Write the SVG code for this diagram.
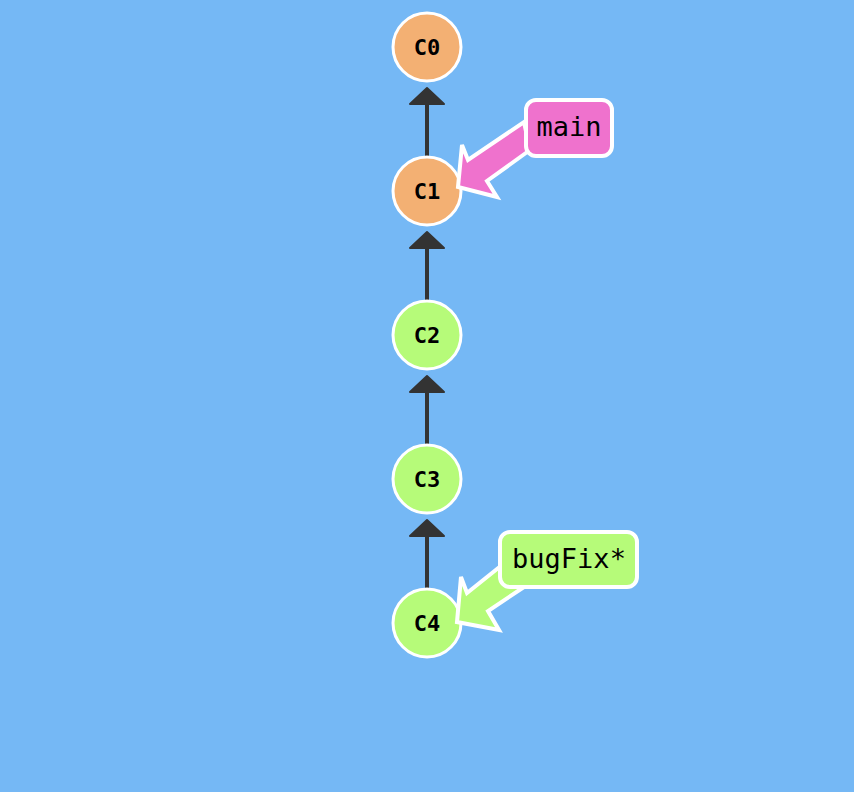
<svg xmlns="http://www.w3.org/2000/svg" width="854" height="792" viewBox="0 0 854 792">
<defs>
<style>
.node circle{stroke:#fff;stroke-width:3}
.node text{font-family:"DejaVu Sans Mono","Liberation Mono",monospace;font-weight:bold;font-size:22px;text-anchor:middle;fill:#000}
.orange{fill:#f3b073}
.green{fill:#b6fb79}
.edge line{stroke:#333;stroke-width:4}
.edge polygon{fill:#333;stroke:#333;stroke-width:2;stroke-linejoin:round}
.label rect,.label polygon{stroke:#fff;stroke-width:4;stroke-linejoin:miter}
.label text{font-family:"DejaVu Sans Mono","Liberation Mono",monospace;font-size:27px;fill:#000;text-anchor:middle}
</style>
</defs>
<rect width="854" height="792" fill="#75b8f5"/>
<g id="connectors" class="edge">
<line x1="427" y1="104" x2="427" y2="158"/><polygon points="427,88 444,104 410,104"/>
<line x1="427" y1="248" x2="427" y2="302"/><polygon points="427,232 444,248 410,248"/>
<line x1="427" y1="392" x2="427" y2="446"/><polygon points="427,376 444,392 410,392"/>
<line x1="427" y1="536" x2="427" y2="590"/><polygon points="427,520 444,536 410,536"/>
</g>
<g id="C0" class="node"><circle class="orange" cx="427" cy="47" r="34"/><text x="427" y="55">C0</text></g>
<g id="C1" class="node"><circle class="orange" cx="427" cy="191" r="34"/><text x="427" y="199">C1</text></g>
<g id="C2" class="node"><circle class="green" cx="427" cy="335" r="34"/><text x="427" y="343">C2</text></g>
<g id="C3" class="node"><circle class="green" cx="427" cy="479" r="34"/><text x="427" y="487">C3</text></g>
<g id="C4" class="node"><circle class="green" cx="427" cy="623" r="34"/><text x="427" y="631">C4</text></g>
<g id="main" class="label">
<polygon fill="#ef72cd" points="458,187 462,145 468,160 524,122 530,150 487,181 497,197"/>
<rect x="526" y="100" width="86" height="56" rx="10" fill="#ef72cd"/>
<text x="569" y="136">main</text>
</g>
<g id="bugFix" class="label">
<polygon fill="#b6fb79" points="457,622 461,577 467,593 502,565 527,585 488,611 499,630"/>
<rect x="500" y="532" width="137" height="55" rx="10" fill="#b6fb79"/>
<text x="569" y="568">bugFix*</text>
</g>
</svg>
